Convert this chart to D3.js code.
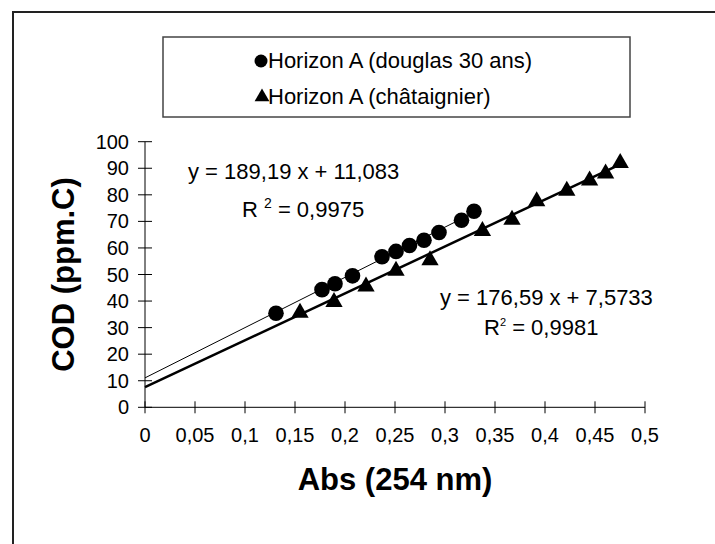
<!DOCTYPE html>
<html>
<head>
<meta charset="utf-8">
<script src="https://cdn.jsdelivr.net/npm/d3@7"></script>
<style>
  body { margin: 0; background: #fff; }
  svg { display: block; font-family: Arial, "Liberation Sans", sans-serif; }
</style>
</head>
<body>
<div class="svg-container"></div>
<script>
// douglas 30 ans (circles)
const douglas_abs = [0.131, 0.177, 0.190, 0.2075, 0.237, 0.251, 0.2645, 0.279, 0.294, 0.3165, 0.329];
const douglas_cod = [35.4, 44.3, 46.5, 49.5, 56.7, 58.7, 60.9, 62.9, 65.8, 70.4, 73.8];
// châtaignier (triangles)
const chat_abs = [0.155, 0.189, 0.221, 0.251, 0.285, 0.3374, 0.367, 0.3917, 0.4218, 0.4446, 0.4606, 0.4752];
const chat_cod = [36.0, 40.0, 45.9, 51.8, 55.7, 66.8, 71.0, 78.0, 81.9, 85.8, 88.4, 92.4];
// trend lines: slope, intercept
const douglas_fit = [189.19, 11.083];
const chat_fit = [176.59, 7.5733];
const legend_labels = ["Horizon A (douglas 30 ans)", "Horizon A (châtaignier)"];
const x_ticks = [0, 0.05, 0.1, 0.15, 0.2, 0.25, 0.3, 0.35, 0.4, 0.45, 0.5];
const y_ticks = [0, 10, 20, 30, 40, 50, 60, 70, 80, 90, 100];

const width = 715, height = 544;
const svg = d3.select(".svg-container").append("svg")
  .attr("width", width).attr("height", height);

// outer frame (extends past the window on right/bottom)
svg.append("rect")
  .attr("x", 13).attr("y", 12)
  .attr("width", 740).attr("height", 560)
  .attr("fill", "none").attr("stroke", "#222").attr("stroke-width", 2);

const xScale = d3.scaleLinear().domain([0, 0.5]).range([145, 645]);
const yScale = d3.scaleLinear().domain([0, 100]).range([407.3, 141.7]);
const fmt = d => String(d).replace(".", ",");

// axes with ticks crossing the line
const gX = svg.append("g").attr("transform", "translate(0," + yScale(0) + ")");
gX.append("line").attr("x1", xScale(0)).attr("x2", xScale(0.5)).attr("stroke", "#000");
gX.selectAll(".xt").data(x_ticks).enter().append("line")
  .attr("x1", d => xScale(d)).attr("x2", d => xScale(d))
  .attr("y1", -6).attr("y2", 6).attr("stroke", "#000");
gX.selectAll(".xl").data(x_ticks).enter().append("text")
  .attr("x", d => xScale(d)).attr("y", 35)
  .attr("text-anchor", "middle").attr("font-size", "20px")
  .text(d => fmt(d));

const gY = svg.append("g").attr("transform", "translate(" + xScale(0) + ",0)");
gY.append("line").attr("y1", yScale(0)).attr("y2", yScale(100)).attr("stroke", "#000");
gY.selectAll(".yt").data(y_ticks).enter().append("line")
  .attr("y1", d => yScale(d)).attr("y2", d => yScale(d))
  .attr("x1", -7).attr("x2", 7).attr("stroke", "#000");
gY.selectAll(".yl").data(y_ticks).enter().append("text")
  .attr("x", -16).attr("y", d => yScale(d) + 7)
  .attr("text-anchor", "end").attr("font-size", "20px")
  .text(d => d);

// axis titles
svg.append("text")
  .attr("x", xScale(0.25)).attr("y", 490)
  .attr("text-anchor", "middle").attr("font-size", "31px").attr("font-weight", "bold")
  .text("Abs (254 nm)");
svg.append("text")
  .attr("transform", "translate(74," + yScale(50) + ") rotate(-90)")
  .attr("text-anchor", "middle").attr("font-size", "31px").attr("font-weight", "bold")
  .text("COD (ppm.C)");

// trend lines from x=0 to last point
function trend(fit, xs, w) {
  svg.append("line")
    .attr("x1", xScale(0)).attr("y1", yScale(fit[1]))
    .attr("x2", xScale(d3.max(xs))).attr("y2", yScale(fit[0] * d3.max(xs) + fit[1]))
    .attr("stroke", "#000").attr("stroke-width", w);
}
trend(douglas_fit, douglas_abs, 1);
trend(chat_fit, chat_abs, 2.5);

const tri = d3.symbol().type(d3.symbolTriangle).size(130);

svg.append("g").selectAll("circle")
  .data(douglas_abs.map((a, i) => [a, douglas_cod[i]]))
  .enter().append("circle")
  .attr("cx", d => xScale(d[0])).attr("cy", d => yScale(d[1]))
  .attr("r", 7.8).attr("fill", "#000");

svg.append("g").selectAll("path")
  .data(chat_abs.map((a, i) => [a, chat_cod[i]]))
  .enter().append("path")
  .attr("d", tri)
  .attr("transform", d => "translate(" + xScale(d[0]) + "," + (yScale(d[1]) + 1) + ")")
  .attr("fill", "#000");

// equations
svg.append("text").attr("x", 188).attr("y", 179).attr("font-size", "22px")
  .text("y = " + fmt(douglas_fit[0]) + " x + " + fmt(douglas_fit[1]));
const r1 = svg.append("text").attr("x", 242).attr("y", 217).attr("font-size", "22px");
r1.append("tspan").text("R ");
r1.append("tspan").attr("dy", -9).attr("font-size", "14px").text("2");
r1.append("tspan").attr("dy", 9).text(" = 0,9975");

svg.append("text").attr("x", 440).attr("y", 305).attr("font-size", "22px")
  .text("y = " + fmt(chat_fit[0]) + " x + " + fmt(chat_fit[1]));
const r2 = svg.append("text").attr("x", 484).attr("y", 335).attr("font-size", "22px");
r2.append("tspan").text("R");
r2.append("tspan").attr("dy", -9).attr("font-size", "11px").text("2");
r2.append("tspan").attr("dy", 9).text(" = 0,9981");

// legend
const leg = svg.append("g");
leg.append("rect").attr("x", 163).attr("y", 37).attr("width", 467).attr("height", 80)
  .attr("fill", "#fff").attr("stroke", "#444").attr("stroke-width", 1.5);
leg.append("circle").attr("cx", 261).attr("cy", 61).attr("r", 6.5).attr("fill", "#000");
leg.append("path").attr("d", d3.symbol().type(d3.symbolTriangle).size(95))
  .attr("transform", "translate(262,97)").attr("fill", "#000");
leg.selectAll(".lt").data(legend_labels).enter().append("text")
  .attr("x", 268).attr("y", (d, i) => 68 + i * 36)
  .attr("font-size", "22px")
  .text(d => d);
</script>
</body>
</html>
